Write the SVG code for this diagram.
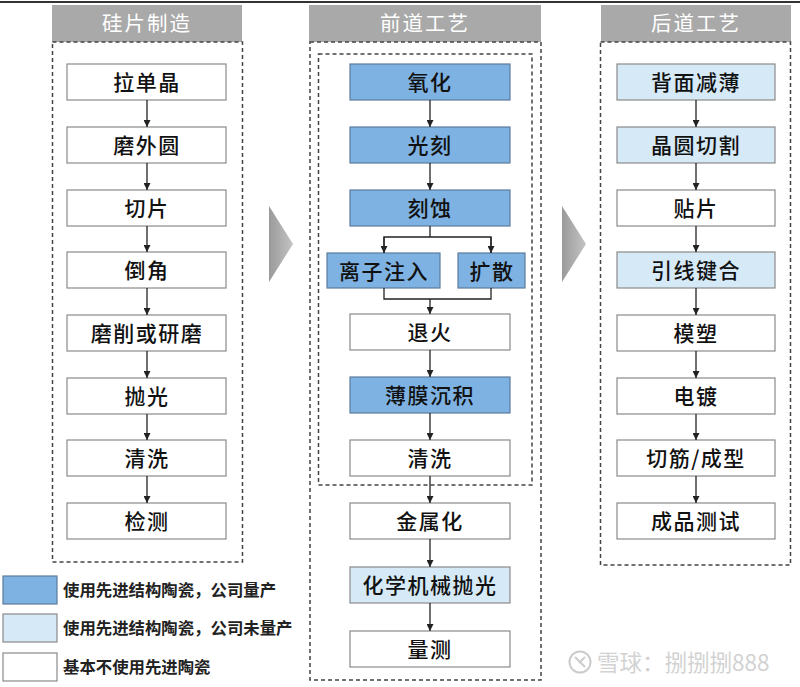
<svg xmlns="http://www.w3.org/2000/svg" width="800" height="687" viewBox="0 0 800 687">
<defs>
<style>
.hdr{fill:#a9a9a9}
.ht{fill:#fff;font-family:"Noto Sans CJK SC",sans-serif;font-size:20.5px;text-anchor:middle;letter-spacing:2px}
.box{fill:none;stroke:#444;stroke-width:1.5;stroke-dasharray:4 3}
.n{stroke:#8a8a8a;stroke-width:1.2}
.w{fill:#fff}
.d{fill:#7eb2e2;stroke:#5d7c9c}
.l{fill:#d5e9f7}
.t{fill:#111;font-family:"Noto Sans CJK SC",sans-serif;font-size:21px;font-weight:500;text-anchor:middle;letter-spacing:1.5px}
.lt{fill:#222;font-family:"Noto Sans CJK SC",sans-serif;font-size:16.4px;font-weight:bold}
.c{stroke:#222;stroke-width:1.3;fill:none}
.tri{fill:url(#g)}
</style>
<marker id="a" viewBox="0 0 10 10" refX="10" refY="5" markerWidth="7" markerHeight="7" orient="auto" markerUnits="userSpaceOnUse">
<path d="M0,0 L10,5 L0,10 z" fill="#222"/>
</marker>
<linearGradient id="g" x1="0" y1="0" x2="1" y2="0">
<stop offset="0" stop-color="#9a9a9a"/>
<stop offset="1" stop-color="#c4c4c4"/>
</linearGradient>
</defs>
<rect width="800" height="687" fill="#fff"/>
<line x1="0" y1="2" x2="800" y2="2" stroke="#333" stroke-width="2"/>

<!-- column frames -->
<g id="col1">
<rect class="hdr" x="52" y="5" width="190" height="37"/>
<text class="ht" x="147" y="31">硅片制造</text>
<rect class="box" x="52.5" y="42" width="190" height="520"/>
</g>
<g id="col2">
<rect class="hdr" x="309" y="5" width="232" height="37"/>
<text class="ht" x="425" y="31">前道工艺</text>
<rect class="box" x="310" y="42" width="231" height="638"/>
<rect class="box" x="318.5" y="54" width="213.5" height="431"/>
</g>
<g id="col3">
<rect class="hdr" x="601" y="5" width="190" height="37"/>
<text class="ht" x="696" y="31">后道工艺</text>
<rect class="box" x="600.5" y="42" width="190" height="523"/>
</g>

<g id="arrows-between">
<polygon class="tri" points="269,206 293,244 269,282"/>
<polygon class="tri" points="562,206 586,244 562,282"/>
</g>

<!-- column 1 nodes -->
<g id="n1"><rect class="n w" x="67" y="64" width="159" height="36"/><text class="t" x="147" y="90">拉单晶</text></g>
<g id="n2"><rect class="n w" x="67" y="127" width="159" height="36"/><text class="t" x="147" y="153">磨外圆</text></g>
<g id="n3"><rect class="n w" x="67" y="190" width="159" height="36"/><text class="t" x="147" y="216">切片</text></g>
<g id="n4"><rect class="n w" x="67" y="252" width="159" height="36"/><text class="t" x="147" y="278">倒角</text></g>
<g id="n5"><rect class="n w" x="67" y="315" width="159" height="36"/><text class="t" x="147" y="341">磨削或研磨</text></g>
<g id="n6"><rect class="n w" x="67" y="378" width="159" height="36"/><text class="t" x="147" y="404">抛光</text></g>
<g id="n7"><rect class="n w" x="67" y="440" width="159" height="36"/><text class="t" x="147" y="466">清洗</text></g>
<g id="n8"><rect class="n w" x="67" y="503" width="159" height="36"/><text class="t" x="147" y="529">检测</text></g>

<!-- column 2 nodes -->
<g id="m1"><rect class="n d" x="350" y="64" width="160" height="36"/><text class="t" x="430" y="90">氧化</text></g>
<g id="m2"><rect class="n d" x="350" y="127" width="160" height="36"/><text class="t" x="430" y="153">光刻</text></g>
<g id="m3"><rect class="n d" x="350" y="190" width="160" height="36"/><text class="t" x="430" y="216">刻蚀</text></g>
<g id="m4"><rect class="n d" x="327" y="253" width="113" height="35"/><text class="t" x="384" y="279">离子注入</text></g>
<g id="m5"><rect class="n d" x="458" y="253" width="67" height="35"/><text class="t" x="492" y="279">扩散</text></g>
<g id="m6"><rect class="n w" x="350" y="314" width="160" height="36"/><text class="t" x="430" y="340">退火</text></g>
<g id="m7"><rect class="n d" x="350" y="377" width="160" height="36"/><text class="t" x="430" y="403">薄膜沉积</text></g>
<g id="m8"><rect class="n w" x="350" y="440" width="160" height="36"/><text class="t" x="430" y="466">清洗</text></g>
<g id="m9"><rect class="n w" x="350" y="503" width="160" height="36"/><text class="t" x="430" y="529">金属化</text></g>
<g id="m10"><rect class="n l" x="350" y="567" width="160" height="36"/><text class="t" x="430" y="593">化学机械抛光</text></g>
<g id="m11"><rect class="n w" x="350" y="631" width="160" height="36"/><text class="t" x="430" y="657">量测</text></g>

<!-- column 3 nodes -->
<g id="k1"><rect class="n l" x="617" y="64" width="158" height="36"/><text class="t" x="696" y="90">背面减薄</text></g>
<g id="k2"><rect class="n l" x="617" y="127" width="158" height="36"/><text class="t" x="696" y="153">晶圆切割</text></g>
<g id="k3"><rect class="n w" x="617" y="190" width="158" height="36"/><text class="t" x="696" y="216">贴片</text></g>
<g id="k4"><rect class="n l" x="617" y="252" width="158" height="36"/><text class="t" x="696" y="278">引线键合</text></g>
<g id="k5"><rect class="n w" x="617" y="315" width="158" height="36"/><text class="t" x="696" y="341">模塑</text></g>
<g id="k6"><rect class="n w" x="617" y="378" width="158" height="36"/><text class="t" x="696" y="404">电镀</text></g>
<g id="k7"><rect class="n w" x="617" y="440" width="158" height="36"/><text class="t" x="696" y="466">切筋/成型</text></g>
<g id="k8"><rect class="n w" x="617" y="503" width="158" height="36"/><text class="t" x="696" y="529">成品测试</text></g>

<g id="connectors">
<line class="c" x1="147" y1="100" x2="147" y2="127" marker-end="url(#a)"/>
<line class="c" x1="147" y1="163" x2="147" y2="190" marker-end="url(#a)"/>
<line class="c" x1="147" y1="226" x2="147" y2="252" marker-end="url(#a)"/>
<line class="c" x1="147" y1="288" x2="147" y2="315" marker-end="url(#a)"/>
<line class="c" x1="147" y1="351" x2="147" y2="378" marker-end="url(#a)"/>
<line class="c" x1="147" y1="414" x2="147" y2="440" marker-end="url(#a)"/>
<line class="c" x1="147" y1="476" x2="147" y2="503" marker-end="url(#a)"/>

<line class="c" x1="430" y1="100" x2="430" y2="127" marker-end="url(#a)"/>
<line class="c" x1="430" y1="163" x2="430" y2="190" marker-end="url(#a)"/>
<polyline class="c" points="430,226 430,237"/>
<polyline class="c" points="384,253 384,237 491,237 491,253"/>
<line class="c" x1="384" y1="237" x2="384" y2="253" marker-end="url(#a)"/>
<line class="c" x1="491" y1="237" x2="491" y2="253" marker-end="url(#a)"/>
<polyline class="c" points="384,288 384,299 491,299 491,288"/>
<line class="c" x1="430" y1="299" x2="430" y2="314" marker-end="url(#a)"/>
<line class="c" x1="430" y1="350" x2="430" y2="377" marker-end="url(#a)"/>
<line class="c" x1="430" y1="413" x2="430" y2="440" marker-end="url(#a)"/>
<line class="c" x1="430" y1="476" x2="430" y2="503" marker-end="url(#a)"/>
<line class="c" x1="430" y1="539" x2="430" y2="567" marker-end="url(#a)"/>
<line class="c" x1="430" y1="603" x2="430" y2="631" marker-end="url(#a)"/>

<line class="c" x1="696" y1="100" x2="696" y2="127" marker-end="url(#a)"/>
<line class="c" x1="696" y1="163" x2="696" y2="190" marker-end="url(#a)"/>
<line class="c" x1="696" y1="226" x2="696" y2="252" marker-end="url(#a)"/>
<line class="c" x1="696" y1="288" x2="696" y2="315" marker-end="url(#a)"/>
<line class="c" x1="696" y1="351" x2="696" y2="378" marker-end="url(#a)"/>
<line class="c" x1="696" y1="414" x2="696" y2="440" marker-end="url(#a)"/>
<line class="c" x1="696" y1="476" x2="696" y2="503" marker-end="url(#a)"/>
</g>

<g id="legend">
<rect class="n d" x="3" y="576" width="54" height="28"/>
<text class="lt" x="63" y="596">使用先进结构陶瓷，公司量产</text>
<rect class="n l" x="3" y="614" width="54" height="28"/>
<text class="lt" x="63" y="634">使用先进结构陶瓷，公司未量产</text>
<rect class="n w" x="3" y="653" width="54" height="28"/>
<text class="lt" x="63" y="673">基本不使用先进陶瓷</text>
</g>

<g id="watermark">
<circle cx="580" cy="662" r="10.5" fill="none" stroke="#cccccc" stroke-width="2"/>
<path d="M575,657 L585,667 M585,657 L579,663" stroke="#cccccc" stroke-width="2" fill="none"/>
<text x="597" y="671" font-family="Noto Sans CJK SC,sans-serif" font-size="22.5" fill="#d2d2d2">雪球：捌捌捌888</text>
</g>
</svg>
